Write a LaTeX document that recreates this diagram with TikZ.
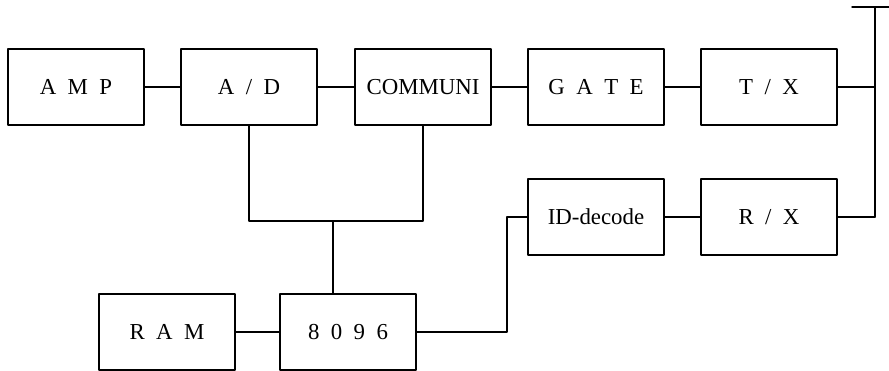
\documentclass[tikz,border=0pt]{standalone}
\usepackage{fontspec}
\setmainfont{Liberation Serif}
\usetikzlibrary{calc}
\tikzset{
  blockbox/.style={draw,line width=.8pt,minimum width=2.72cm,minimum height=1.52cm,inner sep=0pt,font=\fontsize{13}{15}\selectfont},
  wire/.style={line width=.8pt}
}

\begin{document}
\begin{tikzpicture}[x=1cm,y=1cm,line cap=round,line join=round]
  \path[use as bounding box] (0,0) rectangle (17.78,7.42);

  % transmit chain
  \node[blockbox] (amp) at (1.52,5.68) {A\enspace M\enspace P};
  \node[blockbox] (ad) at (4.98,5.68) {A\enspace/\enspace D};
  \node[blockbox] (comm) at (8.46,5.68) {COMMUNI};
  \node[blockbox] (gate) at (11.92,5.68) {G\enspace A\enspace T\enspace E};
  \node[blockbox] (tx) at (15.38,5.68) {T\enspace/\enspace X};

  % receive chain
  \node[blockbox] (idd) at (11.92,3.08) {ID-decode};
  \node[blockbox] (rx) at (15.38,3.08) {R\enspace/\enspace X};

  % processor
  \node[blockbox] (ram) at (3.34,0.78) {R\enspace A\enspace M};
  \node[blockbox] (cpu) at (6.96,0.78) {8\enspace 0\enspace 9\enspace 6};

  % antenna
  \coordinate (anttop) at (17.5,7.28);
  \coordinate (antbot) at (17.5,3.08);
  \draw[wire] (anttop) -- (antbot);
  \draw[wire] (17.04,7.28) -- (17.78,7.28);

  \draw[wire] (amp) -- (ad);
  \draw[wire] (ad) -- (comm);
  \draw[wire] (comm) -- (gate);
  \draw[wire] (gate) -- (tx);
  \draw[wire] (tx.east) -- (tx.east -| anttop);
  \draw[wire] (rx.east) -- (antbot);
  \draw[wire] (idd) -- (rx);
  \draw[wire] (ram) -- (cpu);

  % bus to 8096
  \coordinate (bus) at (6.66,3.0);
  \draw[wire] (ad.south) |- (bus) -| (comm.south);
  \draw[wire] (bus) -- (bus |- cpu.north);
  \draw[wire] (cpu.east) -| (10.14,3.08) -- (idd.west);
\end{tikzpicture}
\end{document}
